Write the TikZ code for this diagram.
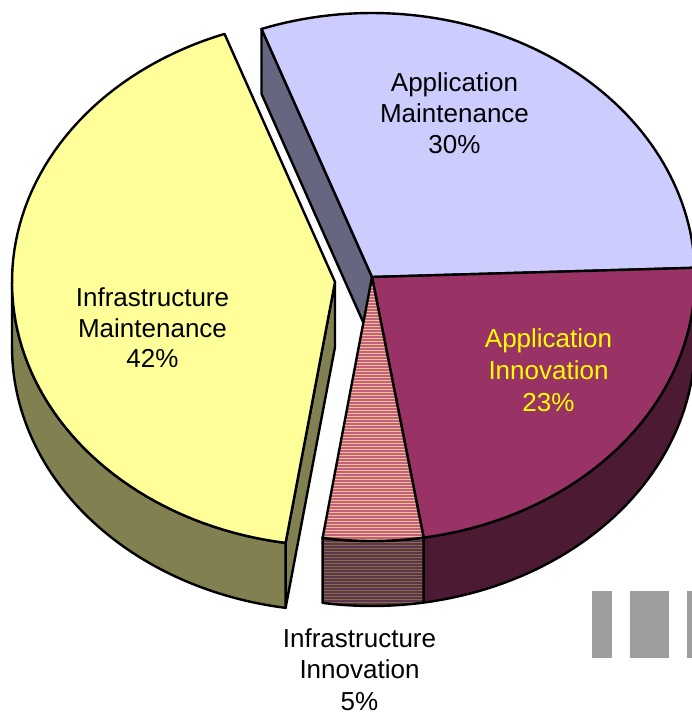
\documentclass[tikz,border=0pt]{standalone}
\usepackage{fontspec}
\setmainfont{Liberation Sans}
\definecolor{yeltop}{HTML}{FFFF99}
\definecolor{yelside}{HTML}{808050}
\definecolor{blutop}{HTML}{CCCCFF}
\definecolor{bluside}{HTML}{666680}
\definecolor{purtop}{HTML}{993366}
\definecolor{purside}{HTML}{4D1A33}
\definecolor{innA}{HTML}{F0C290}
\definecolor{innB}{HTML}{C2607E}
\definecolor{innC}{HTML}{8A6A4E}
\definecolor{innD}{HTML}{5A3648}
\definecolor{barg}{HTML}{9E9E9E}
\definecolor{labyel}{HTML}{FFFF00}
\tikzset{
  face/.style={draw=black, line width=2.4pt, line join=round},
  stripe/.style={line width=1.5pt},
  lbl/.style={font=\fontsize{26}{31}\selectfont, anchor=base, inner sep=0pt},
}
\begin{document}
\begin{tikzpicture}[x=1pt,y=-1pt]
\useasboundingbox (0,0) rectangle (692,719);
\clip (0,0) rectangle (692,719);
\def\ra{323}\def\rb{264}\def\dd{65}
\def\cx{372}\def\cy{277}
\def\ex{335}\def\ey{282}
% key points
\coordinate (C) at (\cx,\cy);
\coordinate (Cd) at (\cx,\cy+\dd);
\coordinate (E) at (\ex,\ey);
\coordinate (Ed) at (\ex,\ey+\dd);
\coordinate (A110) at ({\cx+\ra*cos(110)},{\cy-\rb*sin(110)});
\coordinate (A110d) at ({\cx+\ra*cos(110)},{\cy+\dd-\rb*sin(110)});
\coordinate (Y261) at ({\ex+\ra*cos(261.2)},{\ey-\rb*sin(261.2)});
\coordinate (Y261d) at ({\ex+\ra*cos(261.2)},{\ey+\dd-\rb*sin(261.2)});

% ---------- Infrastructure Maintenance (exploded) ----------
\draw[face, fill=yelside] (E) -- (Y261) -- (Y261d) -- (Ed) -- cycle;
\draw[face, fill=yelside]
  plot[domain=180:261.2,samples=60,variable=\t] ({\ex+\ra*cos(\t)},{\ey-\rb*sin(\t)})
  -- plot[domain=261.2:180,samples=60,variable=\t] ({\ex+\ra*cos(\t)},{\ey+\dd-\rb*sin(\t)})
  -- cycle;
\draw[face, fill=yeltop] (E)
  -- plot[domain=110:261.2,samples=80,variable=\t] ({\ex+\ra*cos(\t)},{\ey-\rb*sin(\t)})
  -- cycle;

% ---------- Application Maintenance ----------
\draw[face, fill=bluside] (C) -- (A110) -- (A110d) -- (Cd) -- cycle;
\draw[face, fill=blutop] (C)
  -- plot[domain=110:2,samples=70,variable=\t] ({\cx+\ra*cos(\t)},{\cy-\rb*sin(\t)})
  -- cycle;

% ---------- Application Innovation ----------
\draw[face, fill=purside]
  plot[domain=-80.8:0,samples=50,variable=\t] ({\cx+\ra*cos(\t)},{\cy-\rb*sin(\t)})
  -- plot[domain=0:-80.8,samples=50,variable=\t] ({\cx+\ra*cos(\t)},{\cy+\dd-\rb*sin(\t)})
  -- cycle;
\draw[face, fill=purtop] (C)
  -- plot[domain=2:-80.8,samples=60,variable=\t] ({\cx+\ra*cos(\t)},{\cy-\rb*sin(\t)})
  -- cycle;

% ---------- Infrastructure Innovation ----------
\begin{scope}
  \clip plot[domain=-98.8:-80.8,samples=20,variable=\t] ({\cx+\ra*cos(\t)},{\cy-\rb*sin(\t)})
    -- plot[domain=-80.8:-98.8,samples=20,variable=\t] ({\cx+\ra*cos(\t)},{\cy+\dd-\rb*sin(\t)})
    -- cycle;
  \fill[innC] (300,520) rectangle (440,620);
  \foreach \yy in {520,523,...,620} \draw[stripe, innD] (300,\yy) -- (440,\yy);
\end{scope}
\draw[face]
  plot[domain=-98.8:-80.8,samples=20,variable=\t] ({\cx+\ra*cos(\t)},{\cy-\rb*sin(\t)})
  -- plot[domain=-80.8:-98.8,samples=20,variable=\t] ({\cx+\ra*cos(\t)},{\cy+\dd-\rb*sin(\t)})
  -- cycle;
\begin{scope}
  \clip (C)
    -- plot[domain=-80.8:-98.8,samples=20,variable=\t] ({\cx+\ra*cos(\t)},{\cy-\rb*sin(\t)})
    -- cycle;
  \fill[innA] (300,270) rectangle (440,545);
  \foreach \yy in {271,274,...,545} \draw[stripe, innB] (300,\yy) -- (440,\yy);
\end{scope}
\draw[face] (C)
  -- plot[domain=-80.8:-98.8,samples=20,variable=\t] ({\cx+\ra*cos(\t)},{\cy-\rb*sin(\t)})
  -- cycle;

% ---------- labels ----------
\node[lbl] (am1) at (454.5,92) {Application};
\node[lbl] (am2) at (454.5,123) {Maintenance};
\node[lbl] (am3) at (454.5,154) {30\%};
\node[lbl] (im1) at (152.5,306) {Infrastructure};
\node[lbl] (im2) at (152.5,337) {Maintenance};
\node[lbl] (im3) at (152.5,367) {42\%};
\node[lbl, text=labyel] (ai1) at (548.5,347) {Application};
\node[lbl, text=labyel] (ai2) at (548.5,379) {Innovation};
\node[lbl, text=labyel] (ai3) at (548.5,411) {23\%};
\node[lbl] (ii1) at (359.5,647) {Infrastructure};
\node[lbl] (ii2) at (359.5,678) {Innovation};
\node[lbl] (ii3) at (359.5,710) {5\%};

% ---------- grey bars ----------
\fill[barg] (592,591) rectangle (612,658);
\fill[barg] (630,591) rectangle (669,658);
\fill[barg] (687,591) rectangle (692,658);
\end{tikzpicture}
\end{document}
